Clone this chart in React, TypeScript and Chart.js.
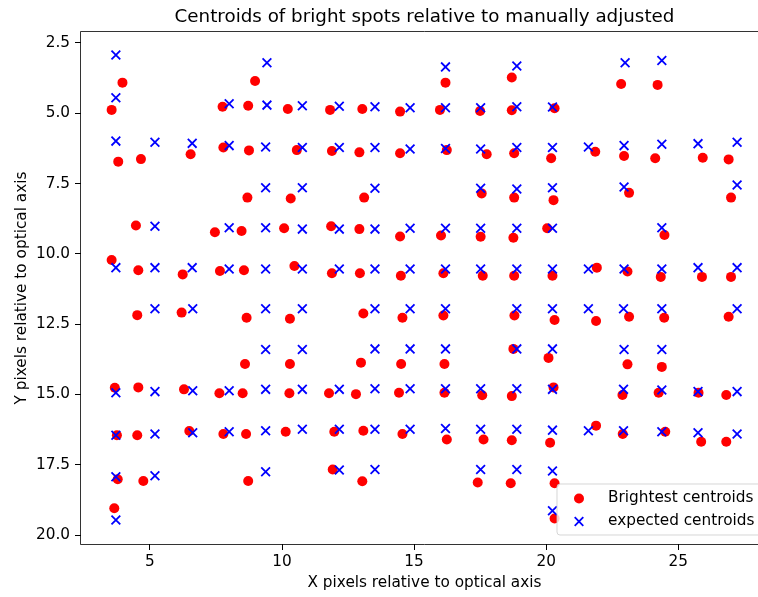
import React, { useEffect, useRef } from 'react';
import { Chart, registerables } from 'chart.js';

Chart.register(...registerables);

const titleText = 'Centroids of bright spots relative to manually adjusted';
const xLabel = 'X pixels relative to optical axis';
const yLabel = 'Y pixels relative to optical axis';
const seriesNames = ['Brightest centroids', 'expected centroids'];

const xTicks = [5, 10, 15, 20, 25];
const yTicks = [2.5, 5, 7.5, 10, 12.5, 15, 17.5, 20];

const brightestX = [
  3.96, 8.98, 3.55, 7.75, 8.72, 10.22,
  3.8, 4.66, 6.54, 7.78, 8.75, 10.56,
  8.69, 10.33,
  4.47, 7.46, 8.47, 10.08,
  3.55, 4.56, 6.24, 7.65, 8.56, 10.47,
  16.19, 18.7,
  11.82, 13.04, 14.47, 15.98, 17.5, 18.7,
  11.89, 12.93, 14.47, 16.24, 17.75, 18.79,
  13.11, 17.56, 18.79,
  11.86, 12.93, 14.47, 16.02, 17.52, 18.76,
  11.89, 12.95, 14.5, 16.11, 17.6, 18.79,
  22.84, 24.22, 20.32,
  20.19, 21.86, 22.95, 24.13, 25.93, 26.91,
  20.28, 23.14, 27.0,
  20.04, 24.48,
  20.24, 21.92, 23.08, 24.34, 25.9, 27.0,
  4.52, 6.2, 8.66, 10.3,
  8.6, 10.3,
  3.67, 4.56, 6.29, 7.63, 8.51, 10.28,
  3.75, 4.52, 6.49, 7.78, 8.64, 10.14,
  3.78, 4.75, 8.72,
  3.65,
  13.08, 14.56, 16.11, 18.8,
  12.99, 14.51, 16.15, 18.76,
  11.78, 12.8, 14.43, 16.15, 17.58, 18.7,
  11.98, 13.08, 14.56, 16.24, 17.63, 18.7,
  11.92, 13.04, 17.41, 18.66,
  20.32, 21.89, 23.14, 24.47, 26.91,
  20.09, 23.08, 24.38,
  20.28, 22.89, 24.26, 25.77, 26.82,
  21.89, 20.15, 22.9, 24.51, 25.87, 26.82,
  20.32, 20.32,
];

const brightestY = [
  3.91, 3.85, 4.88, 4.77, 4.73, 4.85,
  6.72, 6.63, 6.46, 6.22, 6.32, 6.31,
  8.0, 8.03,
  8.99, 9.23, 9.19, 9.09,
  10.22, 10.58, 10.73, 10.61, 10.58, 10.43,
  3.91, 3.73,
  4.88, 4.85, 4.94, 4.88, 4.92, 4.89,
  6.34, 6.39, 6.42, 6.31, 6.46, 6.42,
  8.0, 7.85, 8.0,
  9.02, 9.12, 9.38, 9.35, 9.39, 9.43,
  10.69, 10.69, 10.78, 10.69, 10.78, 10.78,
  3.96, 3.99, 4.82,
  6.6, 6.37, 6.52, 6.6, 6.58, 6.64,
  8.09, 7.83, 8.0,
  9.09, 9.33,
  10.78, 10.49, 10.63, 10.82, 10.82, 10.82,
  12.18, 12.09, 12.27, 12.31,
  13.92, 13.92,
  14.76, 14.75, 14.82, 14.96, 14.96, 14.96,
  16.45, 16.45, 16.3, 16.41, 16.41, 16.33,
  18.02, 18.08, 18.08,
  19.05,
  12.12, 12.27, 12.19, 12.19,
  13.87, 13.92, 13.92, 13.38,
  14.96, 14.99, 14.94, 14.94, 15.03, 15.06,
  16.33, 16.29, 16.41, 16.6, 16.6, 16.63,
  17.67, 18.09, 18.13, 18.16,
  12.35, 12.39, 12.24, 12.27, 12.24,
  13.7, 13.93, 14.02,
  14.75, 15.02, 14.94, 14.94, 15.02,
  16.11, 16.72, 16.41, 16.33, 16.68, 16.68,
  18.16, 19.41,
];

const expectedX = [
  3.71, 9.43, 3.71, 8.0, 9.43, 10.77,
  3.71, 5.19, 6.6, 8.0, 9.38, 10.77,
  9.38, 10.77,
  5.19, 8.0, 9.38, 10.77,
  3.71, 5.19, 6.6, 8.0, 9.38, 10.77,
  16.19, 18.89,
  12.17, 13.52, 14.85, 16.19, 17.52, 18.89,
  12.17, 13.52, 14.85, 16.19, 17.52, 18.89,
  13.52, 17.52, 18.89,
  12.17, 13.52, 14.85, 16.19, 17.52, 18.89,
  12.17, 13.52, 14.85, 16.19, 17.52, 18.89,
  22.99, 24.38, 20.24,
  20.24, 21.6, 22.95, 24.38, 25.75, 27.23,
  20.24, 22.95, 27.23,
  20.24, 24.38,
  20.24, 21.6, 22.95, 24.38, 25.75, 27.23,
  5.19, 6.62, 9.38, 10.77,
  9.38, 10.77,
  3.71, 5.19, 6.62, 8.0, 9.38, 10.77,
  3.71, 5.19, 6.62, 8.0, 9.38, 10.77,
  3.71, 5.19, 9.38,
  3.71,
  13.52, 14.85, 16.19, 18.89,
  13.52, 14.85, 16.19, 18.89,
  12.17, 13.52, 14.85, 16.19, 17.52, 18.89,
  12.17, 13.52, 14.85, 16.19, 17.52, 18.89,
  12.17, 13.52, 17.52, 18.89,
  20.24, 21.6, 22.93, 24.38, 27.23,
  20.24, 22.95, 24.38,
  20.24, 22.93, 24.38, 25.75, 27.23,
  20.24, 21.6, 22.93, 24.38, 25.75, 27.23,
  20.24, 20.24,
];

const expectedY = [
  2.93, 3.2, 4.45, 4.66, 4.71, 4.73,
  5.99, 6.03, 6.07, 6.15, 6.2, 6.22,
  7.65, 7.65,
  9.02, 9.07, 9.07, 9.12,
  10.49, 10.49, 10.49, 10.54, 10.54, 10.54,
  3.35, 3.32,
  4.75, 4.77, 4.8, 4.8, 4.8, 4.77,
  6.22, 6.22, 6.27, 6.25, 6.27, 6.22,
  7.67, 7.67, 7.69,
  9.12, 9.12, 9.09, 9.09, 9.09, 9.09,
  10.54, 10.54, 10.54, 10.54, 10.54, 10.54,
  3.2, 3.12, 4.78,
  6.22, 6.2, 6.15, 6.1, 6.08, 6.03,
  7.65, 7.62, 7.55,
  9.09, 9.07,
  10.54, 10.54, 10.54, 10.54, 10.49, 10.49,
  11.95, 11.95, 11.95, 11.95,
  13.4, 13.4,
  14.94, 14.9, 14.87, 14.87, 14.82, 14.82,
  16.45, 16.41, 16.36, 16.33, 16.29, 16.24,
  17.93, 17.89, 17.75,
  19.47,
  11.95, 11.95, 11.95, 11.95,
  13.38, 13.38, 13.38, 13.38,
  14.82, 14.8, 14.8, 14.8, 14.8, 14.8,
  16.24, 16.24, 16.24, 16.21, 16.24, 16.24,
  17.69, 17.67, 17.67, 17.67,
  11.95, 11.95, 11.95, 11.95, 11.95,
  13.38, 13.4, 13.4,
  14.82, 14.82, 14.84, 14.9, 14.9,
  16.27, 16.29, 16.29, 16.33, 16.36, 16.41,
  17.72, 19.14,
];

const FONT = '"DejaVu Sans", sans-serif';
const TEXT_COLOR = '#000000';
const TITLE_SIZE = 18.3;
const LABEL_SIZE = 15.3;

export default function App() {
  const ref = useRef<HTMLCanvasElement>(null);

  useEffect(() => {
    const canvas = ref.current;
    if (!canvas) return;

    const drawCross = (ctx: CanvasRenderingContext2D, x: number, y: number, h: number) => {
      ctx.beginPath();
      ctx.moveTo(x - h, y - h);
      ctx.lineTo(x + h, y + h);
      ctx.moveTo(x - h, y + h);
      ctx.lineTo(x + h, y - h);
      ctx.stroke();
    };

    const decor = {
      id: 'decor',
      afterDatasetsDraw(chart: any) {
        const ctx: CanvasRenderingContext2D = chart.ctx;
        const a = chart.chartArea;
        ctx.save();
        // spines: left, top, bottom (right spine lies outside the visible frame)
        const L = Math.round(a.left) - 0.5;
        const T = Math.round(a.top) - 0.5;
        const B = Math.round(a.bottom) + 0.5;
        const R = Math.round(a.right) + 0.5;
        ctx.strokeStyle = 'rgba(0,0,0,0.8)';
        ctx.lineWidth = 1;
        ctx.beginPath();
        ctx.moveTo(R, T);
        ctx.lineTo(L, T);
        ctx.lineTo(L, B);
        ctx.lineTo(R, B);
        ctx.lineTo(R, T);
        ctx.stroke();

        // title
        ctx.fillStyle = TEXT_COLOR;
        ctx.font = `${TITLE_SIZE}px ${FONT}`;
        ctx.textAlign = 'center';
        ctx.textBaseline = 'middle';
        ctx.fillText(titleText, (a.left + a.right) / 2, a.top - 15);

        // legend
        ctx.font = `${LABEL_SIZE}px ${FONT}`;
        const w0 = ctx.measureText(seriesNames[0]).width;
        const w1 = ctx.measureText(seriesNames[1]).width;
        const boxLeft = 557;
        const boxBottom = a.bottom - 9;
        const boxTop = boxBottom - 51;
        const textX = boxLeft + 51;
        const boxRight = textX + Math.max(w0, w1) + 7;
        ctx.beginPath();
        const r = 3;
        ctx.moveTo(boxLeft + r, boxTop);
        ctx.lineTo(boxRight - r, boxTop);
        ctx.arcTo(boxRight, boxTop, boxRight, boxTop + r, r);
        ctx.lineTo(boxRight, boxBottom - r);
        ctx.arcTo(boxRight, boxBottom, boxRight - r, boxBottom, r);
        ctx.lineTo(boxLeft + r, boxBottom);
        ctx.arcTo(boxLeft, boxBottom, boxLeft, boxBottom - r, r);
        ctx.lineTo(boxLeft, boxTop + r);
        ctx.arcTo(boxLeft, boxTop, boxLeft + r, boxTop, r);
        ctx.closePath();
        ctx.fillStyle = 'rgba(255,255,255,0.8)';
        ctx.fill();
        ctx.strokeStyle = 'rgba(204,204,204,0.8)';
        ctx.lineWidth = 1;
        ctx.stroke();

        const row0 = boxTop + 14.5;
        const row1 = boxTop + 37.5;
        const mx = boxLeft + 22;
        ctx.fillStyle = 'red';
        ctx.beginPath();
        ctx.arc(mx, row0, 5, 0, Math.PI * 2);
        ctx.fill();
        ctx.strokeStyle = 'blue';
        ctx.lineWidth = 1.8;
        drawCross(ctx, mx, row1, 4.3);

        ctx.fillStyle = TEXT_COLOR;
        ctx.textAlign = 'left';
        ctx.textBaseline = 'middle';
        ctx.fillText(seriesNames[0], textX, row0);
        ctx.fillText(seriesNames[1], textX, row1);
        ctx.restore();
      },
    };

    const chart = new Chart(canvas, {
      type: 'scatter',
      data: {
        datasets: [
          {
            label: seriesNames[0],
            data: brightestX.map((x, i) => ({ x, y: brightestY[i] })),
            pointStyle: 'circle',
            pointRadius: 5,
            backgroundColor: 'red',
            borderColor: 'red',
            borderWidth: 0,
            order: 1,
          },
          {
            label: seriesNames[1],
            data: expectedX.map((x, i) => ({ x, y: expectedY[i] })),
            pointStyle: 'crossRot',
            pointRadius: 6.2,
            backgroundColor: 'blue',
            borderColor: 'blue',
            borderWidth: 1.8,
            order: 0,
          },
        ],
      },
      options: {
        animation: false,
        responsive: false,
        events: [],
        layout: { padding: { top: 32, right: 12, left: 0, bottom: 0 } },
        plugins: {
          legend: { display: false },
          title: { display: false },
          tooltip: { enabled: false },
        },
        scales: {
          x: {
            type: 'linear',
            min: 2.39,
            max: 28.4,
            afterBuildTicks: (s: any) => {
              s.ticks = xTicks.map((v) => ({ value: v }));
            },
            afterFit: (s: any) => {
              s.height = 53;
            },
            grid: {
              drawOnChartArea: false,
              drawTicks: true,
              tickLength: 6,
              color: '#000',
              tickColor: '#000',
              lineWidth: 1,
            },
            border: { display: false },
            ticks: {
              font: { family: FONT, size: LABEL_SIZE },
              color: TEXT_COLOR,
              padding: 3,
              maxRotation: 0,
              autoSkip: false,
              callback: (v: any) => String(v),
            },
            title: {
              display: true,
              text: xLabel,
              font: { family: FONT, size: LABEL_SIZE },
              color: TEXT_COLOR,
              padding: { top: 0, bottom: 4.8 },
            },
          },
          y: {
            type: 'linear',
            reverse: true,
            min: 2.109,
            max: 20.32,
            afterBuildTicks: (s: any) => {
              s.ticks = yTicks.map((v) => ({ value: v }));
            },
            afterFit: (s: any) => {
              s.width = 81;
            },
            grid: {
              drawOnChartArea: false,
              drawTicks: true,
              tickLength: 6,
              color: '#000',
              tickColor: '#000',
              lineWidth: 1,
            },
            border: { display: false },
            ticks: {
              font: { family: FONT, size: LABEL_SIZE },
              color: TEXT_COLOR,
              padding: 5,
              autoSkip: false,
              callback: (v: any) => Number(v).toFixed(1),
            },
            title: {
              display: true,
              text: yLabel,
              font: { family: FONT, size: LABEL_SIZE },
              color: TEXT_COLOR,
              padding: { top: 12.8, bottom: 0 },
            },
          },
        },
      },
      plugins: [decor],
    });

    return () => chart.destroy();
  }, []);

  return (
    <div
      style={{
        position: 'fixed',
        left: 0,
        top: 0,
        width: 758,
        height: 597,
        overflow: 'hidden',
        background: '#fff',
      }}
    >
      <canvas ref={ref} width={780} height={597} style={{ width: 780, height: 597, display: 'block' }} />
    </div>
  );
}
